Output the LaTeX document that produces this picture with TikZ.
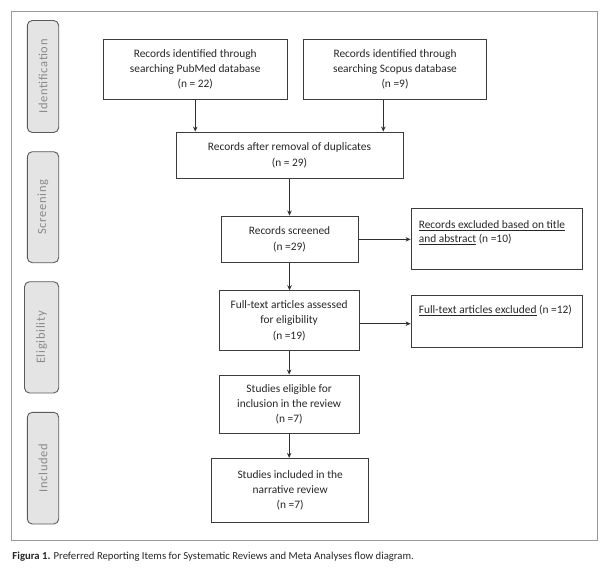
\documentclass[tikz,border=0pt]{standalone}
\usepackage{fontspec}
\setmainfont{Carlito}
\newfontfamily\sidefont[LetterSpace=6]{Carlito}
\usetikzlibrary{arrows.meta}
\definecolor{boxline}{HTML}{3C3C3C}
\definecolor{txt}{HTML}{262626}
\definecolor{framecol}{HTML}{9A9A9A}
\definecolor{sideline}{HTML}{5A5A5A}
\definecolor{sidefill}{HTML}{E4E4E4}
\definecolor{sidetxt}{HTML}{8A8A8A}
\definecolor{arrcol}{HTML}{303030}
\begin{document}
\begin{tikzpicture}[x=1pt,y=-1pt,
  box/.style={draw=boxline, line width=0.9pt, align=center, inner sep=0pt,
    font=\fontsize{11.4}{15.3}\selectfont, text=txt},
  exbox/.style={draw=boxline, line width=0.9pt, inner sep=0pt, minimum width=171.6pt},
  extext/.style={anchor=north west, align=left, inner sep=0pt,
    font=\fontsize{11.4}{14}\selectfont, text=txt},
  side/.style={draw=sideline, fill=sidefill, rounded corners=5pt, line width=0.9pt,
    rotate=90, inner sep=0pt, font=\sidefont\fontsize{12.5}{14}\selectfont, text=sidetxt},
  arr/.style={-{Stealth[length=5pt,width=4.5pt]}, line width=0.8pt, draw=arrcol}]
\useasboundingbox (0,0) rectangle (615,567);
\node[draw=framecol, line width=0.8pt, minimum width=586pt, minimum height=529pt, inner sep=0pt] (frame) at (304,275.5) {};
% side labels
\node[side, minimum width=112pt, minimum height=31.4pt] (lid) at (43,76.5) {Identification};
\node[side, minimum width=111pt, minimum height=31.4pt] (lsc) at (43,207.2) {Screening};
\node[side, minimum width=111.3pt, minimum height=34.2pt] (lel) at (41.6,337.35) {Eligibility};
\node[side, minimum width=111.7pt, minimum height=31.4pt] (lin) at (43,468.15) {Included};
% boxes
\node[box, minimum width=183.5pt, minimum height=60.3pt] (pub) at (195.25,69.15) {Records identified through\\searching PubMed database\\(n = 22)};
\node[box, minimum width=183pt, minimum height=60.3pt] (sco) at (395,69.15) {Records identified through\\searching Scopus database\\(n =9)};
\node[box, minimum width=227pt, minimum height=46.7pt] (dup) at (289.5,155.35) {Records after removal of duplicates\\(n = 29)};
\node[box, minimum width=137pt, minimum height=46.7pt] (scr) at (289.5,239.35) {Records screened\\(n =29)};
\node[box, minimum width=140.3pt, minimum height=60pt] (ful) at (289.15,320.7) {Full-text articles assessed\\for eligibility\\(n =19)};
\node[box, minimum width=140.3pt, minimum height=58.3pt] (eli) at (289.15,404.15) {Studies eligible for\\inclusion in the review\\(n =7)};
\node[box, minimum width=157.1pt, minimum height=64.4pt] (inc) at (290.15,490.5) {Studies included in the\\narrative review\\(n =7)};
\node[exbox, minimum height=61pt] (ex1) at (496.8,238.5) {};
\node[exbox, minimum height=52pt] (ex2) at (496.8,321.3) {};
\node[extext] (ex1t) at (418.6,220.5) {\underline{Records excluded based on title}\\\underline{and abstract} (n =10)};
\node[extext] (ex2t) at (418.6,305) {\underline{Full-text articles excluded} (n =12)};
% arrows
\draw[arr] (pub.south) -- (pub.south |- dup.north);
\draw[arr] ([xshift=-11.7pt]sco.south) -- ([xshift=-11.7pt]sco.south |- dup.north);
\draw[arr] (dup.south) -- (dup.south |- scr.north);
\draw[arr] (scr.south) -- (scr.south |- ful.north);
\draw[arr] (ful.south) -- (ful.south |- eli.north);
\draw[arr] (eli.south) -- (eli.south |- inc.north);
\draw[arr] (scr.east) -- (scr.east -| ex1.west);
\draw[arr] ([yshift=-3pt]ful.east) -- ([yshift=-3pt]ful.east -| ex2.west);
% caption
\node[anchor=west, inner sep=0pt, font=\fontsize{10.7}{12}\selectfont, text=txt] (cap) at (12.3,557) {\textbf{Figura 1.} Preferred Reporting Items for Systematic Reviews and Meta Analyses flow diagram.};
\end{tikzpicture}
\end{document}
